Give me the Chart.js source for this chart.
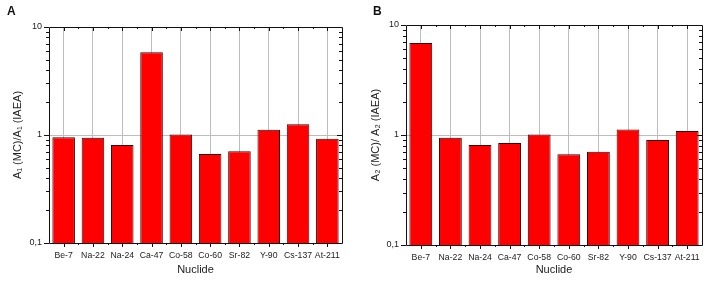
<!DOCTYPE html>
<html>
<head>
<meta charset="utf-8">
<script src="https://cdn.jsdelivr.net/npm/chart.js@4.4.1/dist/chart.umd.min.js"></script>
<style>
  html, body { margin: 0; padding: 0; background: #fff; }
  #wrap { position: relative; width: 708px; height: 284px; }
  .pane { position: absolute; top: 0; width: 354px; height: 284px; }
  .letter { position: absolute; top: 4px; font: bold 12px "Liberation Sans", Arial, sans-serif; color: #111; }
</style>
</head>
<body>
<div id="wrap">
  <div class="pane" style="left:0"><canvas id="cA" width="354" height="284"></canvas></div>
  <div class="pane" style="left:354px"><canvas id="cB" width="354" height="284"></canvas></div>
  <div class="letter" style="left:7px">A</div>
  <div class="letter" style="left:373px">B</div>
</div>
<script>
const nuclides = ["Be-7", "Na-22", "Na-24", "Ca-47", "Co-58", "Co-60", "Sr-82", "Y-90", "Cs-137", "At-211"];
const ratioA1 = [0.955, 0.945, 0.81, 5.83, 1.01, 0.668, 0.706, 1.12, 1.26, 0.925];
const ratioA2 = [6.86, 0.945, 0.81, 0.846, 1.01, 0.667, 0.705, 1.12, 0.90, 1.09];
const yTickValues = [0.1, 1, 10];
const yTickLabels = ["0,1", "1", "10"];

const FONT = '"Liberation Sans", Arial, sans-serif';

const framePlugin = {
  id: 'frame',
  afterDraw(chart) {
    const ctx = chart.ctx;
    const a = chart.chartArea;
    const y = chart.scales.y, x = chart.scales.x;
    ctx.save();
    ctx.strokeStyle = '#111';
    ctx.lineWidth = 1;
    ctx.beginPath();
    ctx.rect(Math.round(a.left) + 0.5, Math.round(a.top) + 0.5, Math.round(a.right - a.left), Math.round(a.bottom - a.top));
    ctx.stroke();
    ctx.beginPath();
    for (let d = -1; d < 1; d++) {
      for (let m = 1; m <= 9; m++) {
        const v = m * Math.pow(10, d);
        const py = Math.round(y.getPixelForValue(v)) + 0.5;
        const len = m === 1 ? 5 : 3;
        ctx.moveTo(a.left, py); ctx.lineTo(a.left - len, py);
        ctx.moveTo(a.right, py); ctx.lineTo(a.right - len, py);
      }
    }
    const pTop = Math.round(y.getPixelForValue(10)) + 0.5;
    ctx.moveTo(a.left, pTop); ctx.lineTo(a.left - 5, pTop);
    ctx.moveTo(a.right, pTop); ctx.lineTo(a.right - 5, pTop);
    const n = chart.data.labels.length;
    for (let i = 0; i < n; i++) {
      const px = Math.round(x.getPixelForValue(i)) + 0.5;
      ctx.moveTo(px, a.bottom); ctx.lineTo(px, a.bottom + 4);
      ctx.moveTo(px, a.top); ctx.lineTo(px, a.top + 4);
      if (i > 0) {
        const bx = Math.round((x.getPixelForValue(i) + x.getPixelForValue(i - 1)) / 2) + 0.5;
        ctx.moveTo(bx, a.bottom); ctx.lineTo(bx, a.bottom + 2);
        ctx.moveTo(bx, a.top); ctx.lineTo(bx, a.top + 2);
      }
    }
    ctx.stroke();
    ctx.restore();
  }
};

function makeChart(id, values, yTitle, geo) {
  return new Chart(document.getElementById(id), {
    type: 'bar',
    data: {
      labels: nuclides,
      datasets: [{
        data: values,
        backgroundColor: '#ff0000',
        borderColor: '#3a0000',
        borderWidth: 1,
        barPercentage: 0.77,
        categoryPercentage: 1.0
      }]
    },
    plugins: [framePlugin],
    options: {
      responsive: false,
      animation: false,
      devicePixelRatio: 1,
      layout: { padding: { left: 0, right: geo.right, top: geo.top, bottom: 0 } },
      plugins: { legend: { display: false }, tooltip: { enabled: false } },
      scales: {
        x: {
          offset: true,
          grid: { offset: false, color: '#bdbdbd', lineWidth: 1, drawTicks: false },
          border: { display: false },
          ticks: { color: '#222', font: { family: FONT, size: 8.7 }, padding: 7, maxRotation: 0, autoSkip: false },
          title: { display: true, text: 'Nuclide', color: '#222', font: { family: FONT, size: 11 }, padding: { top: 0, bottom: geo.xTitlePad } },
          afterFit(s) { s.height = geo.xh; }
        },
        y: {
          type: 'logarithmic',
          min: 0.1, max: 10,
          afterBuildTicks(s) { s.ticks = yTickValues.map(v => ({ value: v })); },
          grid: { color: ctx => (ctx.tick && ctx.tick.value === 1) ? '#bdbdbd' : 'rgba(0,0,0,0)', drawTicks: false },
          border: { display: false },
          ticks: {
            color: '#222', font: { family: FONT, size: 9 }, padding: 7,
            callback: (v) => { const i = yTickValues.indexOf(v); return i >= 0 ? yTickLabels[i] : ''; }
          },
          title: { display: true, text: yTitle, color: '#222', font: { family: FONT, size: 11 }, padding: { top: geo.yTitlePad, bottom: 0 } },
          afterFit(s) { s.width = geo.yw; }
        }
      }
    }
  });
}

makeChart('cA', ratioA1, 'A\u2081 (MC)/A\u2081 (IAEA)', { right: 12, top: 27, yw: 49, xh: 41, xTitlePad: 7, yTitlePad: 11 });
makeChart('cB', ratioA2, 'A\u2082 (MC)/ A\u2082 (IAEA)', { right: 6, top: 25, yw: 52, xh: 39, xTitlePad: 7, yTitlePad: 15 });
</script>
</body>
</html>
